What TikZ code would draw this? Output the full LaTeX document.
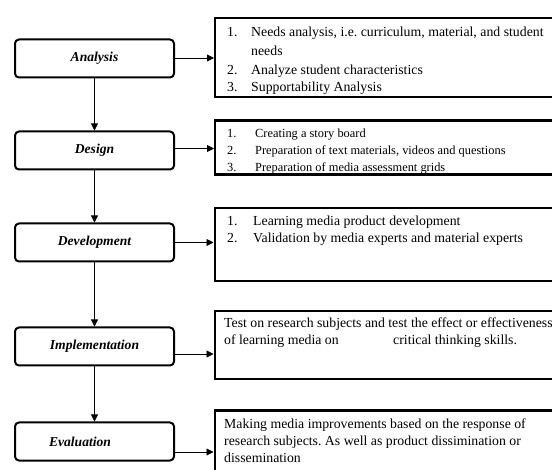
\documentclass[tikz,border=0pt]{standalone}
\usepackage{fontspec}
\setmainfont{Liberation Serif}
\usetikzlibrary{arrows.meta,calc}
\frenchspacing
\tikzset{
  stage/.style={draw, line width=2pt, rounded corners=4pt, minimum width=159pt, minimum height=38pt, inner sep=0pt, font=\fontsize{13.6}{15}\selectfont\bfseries\itshape},
  infobox/.style={draw, line width=2.4pt, inner sep=0pt, anchor=north west},
  flow/.style={line width=0.9pt, -{Triangle[length=7pt,width=7pt]}},
  txt/.style={anchor=base west, inner sep=0pt, font=\fontsize{13.8}{15}\selectfont},
  smalltxt/.style={anchor=base west, inner sep=0pt, font=\fontsize{12.4}{14}\selectfont}
}
\begin{document}
\begin{tikzpicture}[x=1pt,y=-1pt]
\useasboundingbox (0,0) rectangle (552,470);
\clip (0,0) rectangle (552,470);
\fill[white] (0,0) rectangle (552,470);

% left stages
\node[stage] (ana) at (94.5,58.5) {Analysis};
\node[stage] (des) at (94.5,150.5) {Design};
\node[stage] (dev) at (94.5,242.5) {Development};
\node[stage] (imp) at (94.5,346.5) {Implementation};
\node[stage] (eva) at (94.5,441.5) {Evaluation\hspace*{29pt}};

% right boxes
\node[infobox, minimum width=350pt, minimum height=79pt] (r1) at (214,17) {};
\node[infobox, minimum width=350pt, minimum height=54pt] (r2) at (214,119.5) {};
\node[infobox, minimum width=350pt, minimum height=73pt] (r3) at (213.5,207) {};
\node[infobox, minimum width=350pt, minimum height=68pt] (r4) at (213.5,310) {};
\node[infobox, minimum width=350pt, minimum height=80pt] (r5) at (213.5,409.5) {};

% box 1 text
\node[txt] (t1a) at (227,37) {1.};
\node[txt] (t1b) at (251,37) {Needs analysis, i.e. curriculum, material, and student};
\node[txt] (t1c) at (251,55.5) {needs};
\node[txt] (t1d) at (227,74.5) {2.};
\node[txt] (t1e) at (251,74.5) {Analyze student characteristics};
\node[txt] (t1f) at (227,92) {3.};
\node[txt] (t1g) at (251,92) {Supportability Analysis};

% box 2 text
\node[smalltxt] (t2a) at (227,138) {1.};
\node[smalltxt] (t2b) at (255,138) {Creating a story board};
\node[smalltxt] (t2c) at (227,155) {2.};
\node[smalltxt] (t2d) at (255,155) {Preparation of text materials, videos and questions};
\node[smalltxt] (t2e) at (227,172) {3.};
\node[smalltxt] (t2f) at (255,172) {Preparation of media assessment grids};

% box 3 text
\node[txt] (t3a) at (227,226) {1.};
\node[txt] (t3b) at (253,226) {Learning media product development};
\node[txt] (t3c) at (227,243) {2.};
\node[txt] (t3d) at (253,243) {Validation by media experts and material experts};

% box 4 text
\node[txt] (t4a) at (224,328) {Test on research subjects and test the effect or effectiveness};
\node[txt] (t4b) at (224,345) {of learning media on};
\node[txt] (t4c) at (393,345) {critical thinking skills.};

% box 5 text
\node[txt] (t5a) at (224,429) {Making media improvements based on the response of};
\node[txt] (t5b) at (224,446) {research subjects. As well as product dissimination or};
\node[txt] (t5c) at (224,462) {dissemination};

% vertical flow
\draw[flow] (ana) -- (des);
\draw[flow] (des) -- (dev);
\draw[flow] (dev) -- (imp);
\draw[flow] (imp) -- (eva);

% horizontal arrows
\draw[flow] ([yshift=0.5pt]ana.east) -- ([yshift=0.5pt]ana.east -| r1.west);
\draw[flow] ([yshift=2pt]des.east) -- ([yshift=2pt]des.east -| r2.west);
\draw[flow] (dev.east) -- (dev.east -| r3.west);
\draw[flow] ([yshift=-7.5pt]imp.east) -- ([yshift=-7.5pt]imp.east -| r4.west);
\draw[flow] ([yshift=-10.5pt]eva.east) -- ([yshift=-10.5pt]eva.east -| r5.west);
\end{tikzpicture}
\end{document}
